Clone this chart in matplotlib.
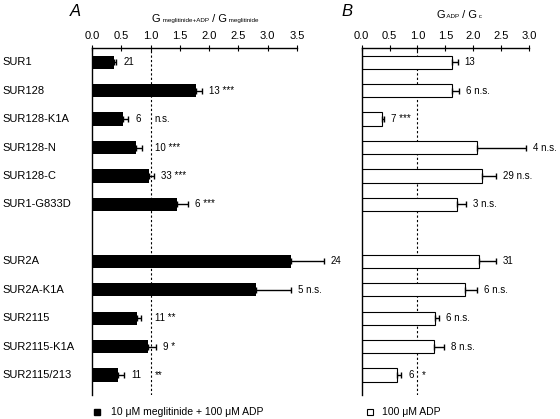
import matplotlib
matplotlib.use('Agg')
import matplotlib.pyplot as plt
from matplotlib.lines import Line2D
from matplotlib.offsetbox import TextArea, HPacker, AnnotationBbox
from matplotlib.transforms import blended_transform_factory

plt.rcParams['font.family'] = ['Liberation Sans', 'DejaVu Sans']

cats = ['SUR1', 'SUR128', 'SUR128-K1A', 'SUR128-N', 'SUR128-C', 'SUR1-G833D',
        'SUR2A', 'SUR2A-K1A', 'SUR2115', 'SUR2115-K1A', 'SUR2115/213']

# panel A: G meglitinide+ADP / G meglitinide
a_vals = [0.38, 1.775, 0.535, 0.757, 0.973, 1.45, 3.40, 2.80, 0.768, 0.96, 0.444]
a_errs = [0.035, 0.10, 0.08, 0.10, 0.085, 0.19, 0.56, 0.60, 0.075, 0.14, 0.10]
a_n = ['21', '13', '6', '10', '33', '6', '24', '5', '11', '9', '11']
a_sig = ['', '***', 'n.s.', '***', '***', '***', '', 'n.s.', '**', '*', '**']

# panel B: G ADP / G c
b_vals = [1.62, 1.62, 0.37, 2.07, 2.15, 1.70, 2.10, 1.86, 1.31, 1.30, 0.64]
b_errs = [0.10, 0.12, 0.035, 0.87, 0.25, 0.17, 0.30, 0.20, 0.08, 0.17, 0.07]
b_n = ['13', '6', '7', '4', '29', '3', '31', '6', '6', '8', '6']
b_sig = ['', 'n.s.', '***', 'n.s.', 'n.s.', 'n.s.', '', 'n.s.', 'n.s.', 'n.s.', '*']

ypos = list(range(6)) + list(range(7, 12))

W, H = 560, 419
fig = plt.figure(figsize=(5.6, 4.19), dpi=100)
top, bot = 48, 395
axA = fig.add_axes([92 / W, 1 - bot / H, (297 - 92) / W, (bot - top) / H])
axB = fig.add_axes([361.7 / W, 1 - bot / H, (529 - 361.7) / W, (bot - top) / H])
r = fig.canvas.get_renderer()


def setup(ax, xmax, ticks):
    ax.set_xlim(0, xmax)
    ax.set_ylim(11.7, -0.5)
    for s in ['right', 'bottom']:
        ax.spines[s].set_visible(False)
    for s in ['top', 'left']:
        ax.spines[s].set_linewidth(1)
    ax.xaxis.tick_top()
    ax.set_xticks(ticks)
    ax.set_xticklabels(['%.1f' % t for t in ticks])
    ax.tick_params(axis='x', direction='inout', length=4, width=0.8, labelsize=8, pad=3)
    ax.set_yticks([])
    ax.axvline(1, color='black', lw=0.8, ls=(0, (2, 2)), zorder=1)
    ax.patch.set_alpha(0)


def draw(ax, vals, errs, ns, sigs, filled, xmax):
    if filled:
        ax.barh(ypos, vals, height=0.47, color='black', zorder=2)
    else:
        ax.barh(ypos, vals, height=0.47, facecolor='white', edgecolor='black', lw=0.8, zorder=2)
    ax.errorbar(vals, ypos, xerr=[[0] * len(vals), errs], fmt='none', ecolor='black',
                elinewidth=1, capsize=2.4, capthick=1, clip_on=False, zorder=3)
    ppu = ax.bbox.width / xmax
    for y, v, e, n, s in zip(ypos, vals, errs, ns, sigs):
        x0 = v + e + 7 / ppu
        t = ax.text(x0, y, n, fontsize=7, va='center', ha='left', clip_on=False)
        if not s:
            continue
        w_n = t.get_window_extent(r).width / ppu
        full = n + ' ' + s
        t.set_text(full)
        w_full = t.get_window_extent(r).width / ppu
        if x0 + w_n > 1:
            t.set_x(max(x0, 1.07))
        elif x0 + w_full > 1:
            t.set_text(n)
            ax.text(1.07, y, s, fontsize=7, va='center', ha='left')


setup(axA, 3.5, [0, 0.5, 1, 1.5, 2, 2.5, 3, 3.5])
setup(axB, 3.0, [0, 0.5, 1, 1.5, 2, 2.5, 3])
draw(axA, a_vals, a_errs, a_n, a_sig, True, 3.5)
draw(axB, b_vals, b_errs, b_n, b_sig, False, 3.0)

# category labels
tr = blended_transform_factory(fig.transFigure, axA.transData)
for y, c in zip(ypos, cats):
    axA.text(2 / W, y, c, transform=tr, fontsize=8, va='center', ha='left', clip_on=False)

# panel letters
fig.text(75 / W, 1 - 12 / H, 'A', fontsize=12, style='italic', ha='center', va='center')
fig.text(347 / W, 1 - 12 / H, 'B', fontsize=12, style='italic', ha='center', va='center')


def axis_label(parts, xy):
    boxes = [TextArea(txt, textprops=dict(fontsize=sz)) for txt, sz in parts]
    pack = HPacker(children=boxes, align='baseline', pad=0, sep=0)
    ab = AnnotationBbox(pack, xy, xycoords='figure pixels', frameon=False,
                        box_alignment=(0.5, 0.5), pad=0)
    fig.add_artist(ab)


axis_label([('G', 8), (' meglitinide+ADP', 4.5), (' / G', 8), (' meglitinide', 4.5)], (205, H - 19))
axis_label([('G', 8), (' ADP', 4.5), (' / G', 8), (' c', 4.5)], (459, H - 15))

# legends
fig.add_artist(Line2D([96.7 / W], [1 - 412.3 / H], marker='s', ms=5, color='black',
                      transform=fig.transFigure))
fig.text(111 / W, 1 - 412.3 / H, '10 \u03bcM meglitinide + 100 \u03bcM ADP', fontsize=7.5,
         va='center', ha='left')
fig.add_artist(Line2D([370 / W], [1 - 412.3 / H], marker='s', ms=5, mfc='white', mec='black',
                      mew=0.8, transform=fig.transFigure))
fig.text(381.7 / W, 1 - 412.3 / H, '100 \u03bcM ADP', fontsize=7.5, va='center', ha='left')

fig.savefig('out.png', dpi=100)
